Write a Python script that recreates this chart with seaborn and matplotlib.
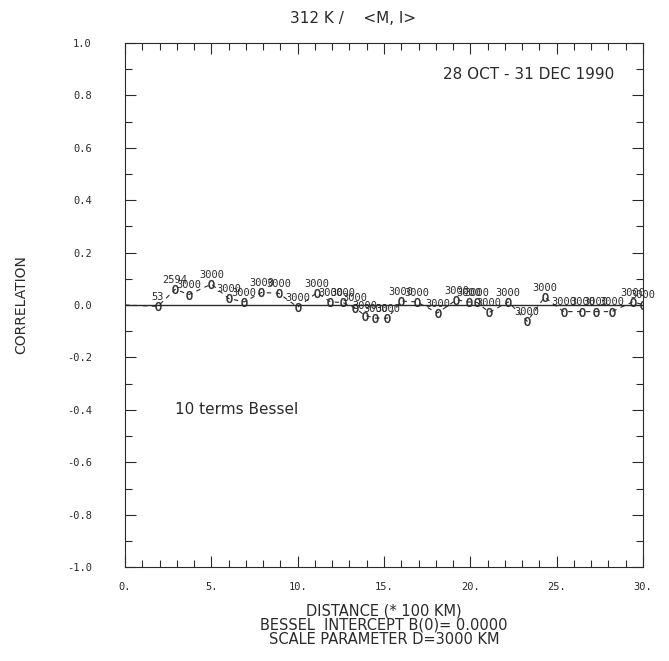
import numpy as np
import pandas as pd
import matplotlib
matplotlib.use("Agg")
import matplotlib.pyplot as plt
import seaborn as sns
from matplotlib.ticker import MultipleLocator, FixedLocator

# binned correlations: distance (x100 km), correlation, pair count
dist = [1.9, 2.9, 3.7, 5.0, 6.0, 6.9, 7.9, 8.9, 10.0, 11.1, 11.9, 12.6, 13.3,
        13.9, 14.5, 15.2, 16.0, 16.9, 18.1, 19.2, 19.9, 20.4, 21.1, 22.2, 23.3,
        24.3, 25.4, 26.5, 27.3, 28.2, 29.4, 30.0]
corr = [-0.005, 0.060, 0.040, 0.080, 0.025, 0.012, 0.048, 0.045, -0.008, 0.047,
        0.012, 0.010, -0.010, -0.040, -0.050, -0.050, 0.015, 0.012, -0.030, 0.020,
        0.012, 0.010, -0.028, 0.012, -0.062, 0.030, -0.025, -0.025, -0.025, -0.025,
        0.012, 0.002]
npairs = [53, 2594] + [3000] * 30

# Bessel fit (intercept 0) and running curve
fit_x = [0, 30]
fit_y = [0.0, 0.0]
dash_x = [0.0] + dist
dash_y = [0.0] + corr

xticks = [0, 5, 10, 15, 20, 25, 30]
xtick_labels = ["0.", "5.", "10.", "15.", "20.", "25.", "30."]
yticks = [-1.0, -0.8, -0.6, -0.4, -0.2, 0.0, 0.2, 0.4, 0.6, 0.8, 1.0]
ytick_labels = ["-1.0", "-0.8", "-0.6", "-0.4", "-0.2", "0.0", "0.2", "0.4", "0.6", "0.8", "1.0"]

sns.set_style("ticks")
plt.rcParams['font.family'] = ['DejaVu Sans']
ink = "#2a2a2a"

fig = plt.figure(figsize=(6.69, 6.61), dpi=100)
ax = fig.add_axes([0.187, 0.142, 0.774, 0.793])

df = pd.DataFrame({"dist": dist, "corr": corr, "n": npairs})
sns.lineplot(x=dash_x, y=dash_y, ax=ax, color=ink, lw=0.8, linestyle=(0, (4, 4)))
sns.lineplot(x=fit_x, y=fit_y, ax=ax, color=ink, lw=1.0)
sns.scatterplot(data=df, x="dist", y="corr", ax=ax, marker="$0$", s=40,
                color=ink, edgecolor=ink, linewidth=0.3)
for x, y, n in zip(dist, corr, npairs):
    ax.text(x, y + 0.016, str(n), ha="center", va="bottom", fontsize=7.5,
            family="DejaVu Sans Mono", color=ink)

ax.set_xlim(0, 30)
ax.set_ylim(-1, 1)
ax.xaxis.set_major_locator(FixedLocator(xticks))
ax.xaxis.set_minor_locator(MultipleLocator(1))
ax.yaxis.set_major_locator(FixedLocator(yticks))
ax.yaxis.set_minor_locator(MultipleLocator(0.1))
ax.set_xticklabels(xtick_labels)
ax.set_yticklabels(ytick_labels)
ax.tick_params(which="both", direction="in", top=True, right=True, color=ink, width=0.8)
ax.tick_params(which="major", length=8)
ax.tick_params(which="minor", length=5)
ax.tick_params(axis="y", pad=24, labelsize=7.5, labelcolor=ink)
ax.tick_params(axis="x", pad=11, labelsize=7.5, labelcolor=ink)
for lab in ax.get_xticklabels() + ax.get_yticklabels():
    lab.set_family("DejaVu Sans Mono")
for sp in ax.spines.values():
    sp.set_color(ink)
    sp.set_linewidth(0.8)

ax.set_xlabel("DISTANCE (* 100 KM)\nBESSEL  INTERCEPT B(0)= 0.0000\nSCALE PARAMETER D=3000 KM",
              fontsize=10.5, color=ink, linespacing=0.95, labelpad=8)
ax.set_ylabel("CORRELATION", fontsize=10, color=ink, labelpad=28)

ax.text(0.78, 0.94, "28 OCT - 31 DEC 1990", transform=ax.transAxes, ha="center",
        va="center", fontsize=11, color=ink)
ax.text(2.9, -0.40, "10 terms Bessel", ha="left", va="center", fontsize=11, color=ink)
fig.text(0.528, 0.972, "312 K /    <M, l>", ha="center", va="center", fontsize=11, color=ink)

fig.savefig("out.png", dpi=100)
